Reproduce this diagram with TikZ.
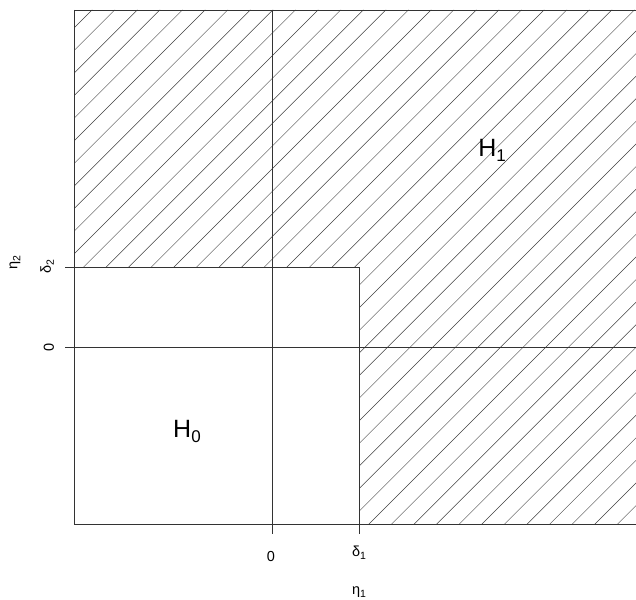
\documentclass[tikz,border=0pt]{standalone}
\usepackage{fontspec}
\setmainfont{Liberation Sans}
\newcommand{\mysub}[3]{\raisebox{-#1}{\fontsize{#2}{#2}\selectfont #3}}
\tikzset{
  frame/.style={draw=black!80, line width=0.8pt},
  hatch/.style={draw=black!75, line width=0.45pt},
  ticklbl/.style={font=\fontsize{14.5}{14.5}\selectfont, inner sep=0pt},
  reglbl/.style={font=\fontsize{25}{25}\selectfont, inner sep=0pt}
}
\begin{document}
\begin{tikzpicture}[x=1pt,y=-1pt]
\useasboundingbox (0,0) rectangle (636,599);
% hatching
\begin{scope}
  \clip (74,10) -- (640,10) -- (640,524) -- (359,524) -- (359,267) -- (74,267) -- cycle;
  \foreach \k in {-1,...,48} {
    \draw[hatch] ({102+22.6*\k-600},600) -- ({102+22.6*\k},0);
  }
\end{scope}
% frame
\draw[frame] (74,10) -- (640,10);
\draw[frame] (74,10) -- (74,524) -- (640,524);
% H0 box edges
\draw[frame] (74,267) -- (359,267) -- (359,534);
% axes at zero
\draw[frame] (272,10) -- (272,534);
\draw[frame] (65,347) -- (640,347);
\draw[frame] (65,267) -- (74,267);
% labels
\node[ticklbl] (x0) at (271,556) {0};
\node[ticklbl] (xd) at (359,553) {δ\mysub{3pt}{10.5}{1}};
\node[ticklbl] (xl) at (359,592) {η\mysub{3pt}{10.5}{1}};
\node[ticklbl, rotate=90] (y0) at (49,347) {0};
\node[ticklbl, rotate=90] (yd) at (47,267) {δ\mysub{3pt}{10.5}{2}};
\node[ticklbl, rotate=90] (yl) at (15,263) {η\mysub{3pt}{10.5}{2}};
\node[reglbl] (h0) at (187,431) {H\mysub{5pt}{17}{0}};
\node[reglbl] (h1) at (492,150) {H\mysub{5pt}{17}{1}};
\end{tikzpicture}
\end{document}
